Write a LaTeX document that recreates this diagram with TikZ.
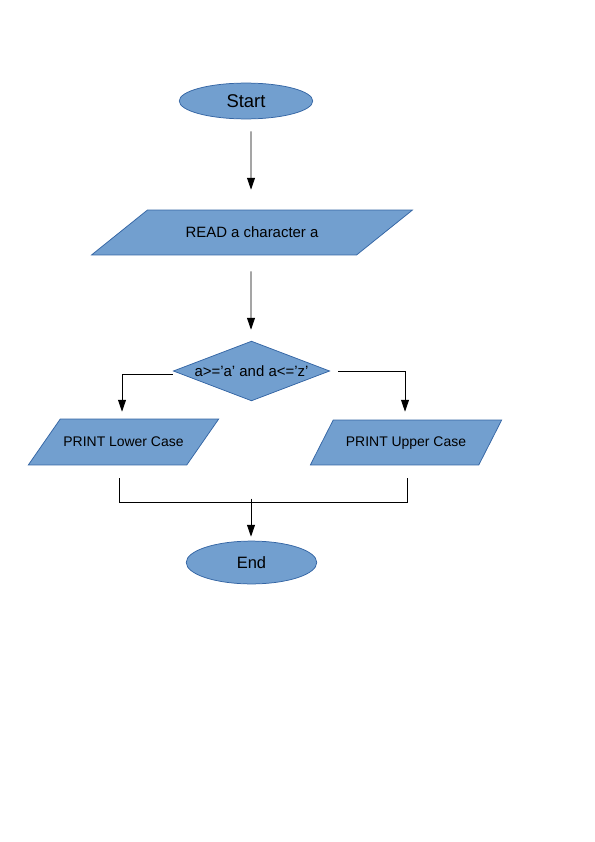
\documentclass[tikz,border=0pt]{standalone}
\usepackage{fontspec}
\setmainfont{Liberation Sans}
\usetikzlibrary{shapes.geometric,arrows.meta,calc}

\definecolor{boxfill}{RGB}{114,159,207}
\definecolor{boxline}{RGB}{52,101,164}

\tikzset{every picture/.style={line width=0.75pt}}
\tikzset{
	terminal/.style={ellipse, draw=boxline, fill=boxfill, inner sep=0pt},
	inout/.style={trapezium, trapezium stretches body, draw=boxline, fill=boxfill, inner sep=0pt, font=\fontsize{14}{16}\selectfont},
	decision/.style={diamond, draw=boxline, fill=boxfill, inner sep=0pt, font=\fontsize{15}{17}\selectfont},
	flow/.style={draw=black, line width=0.9pt, -{Triangle[length=12,width=8]}},
	mergeline/.style={draw=black, line width=0.9pt},
}

\begin{document}
\begin{tikzpicture}[x=1bp,y=1bp,yscale=-1,xscale=1]
	\useasboundingbox (0,0) rectangle (595,842);

	%Terminal: Start
	\node[terminal, minimum width=134, minimum height=36, font=\fontsize{18.5}{20}\selectfont] (start) at (246,101) {Start};
	%Input: read
	\node[inout, trapezium left angle=38.8, trapezium right angle=141.2, minimum width=322, text height=27.2, text depth=17.8, font=\fontsize{15}{17}\selectfont] (read) at (252,232.5) {READ a character a};
	%Decision
	\node[decision, aspect=2.62, minimum width=157, minimum height=60] (test) at (251.5,371) {a>='a' and a<='z'};
	%Output: lower / upper
	\node[inout, trapezium left angle=55.2, trapezium right angle=124.8, minimum width=191, text height=27.2, text depth=18.8] (lower) at (123.5,442) {PRINT Lower Case};
	\node[inout, trapezium left angle=63, trapezium right angle=117, minimum width=192, text height=26.8, text depth=18.2] (upper) at (406,442.5) {PRINT Upper Case};
	%Terminal: End
	\node[terminal, minimum width=131, minimum height=43, font=\fontsize{16.5}{18}\selectfont] (end) at (251.5,562.5) {End};

	%Connectors
	\draw[flow] ($(start.south)+(5,12)$) -- ($(read.north)+(-1,-20)$);
	\draw[flow] ($(read.south)+(-1,16)$) -- ($(test.north)+(-0.5,-11)$);
	\draw[flow] ($(test.west)+(0,3)$) -| ($(lower.north)+(-1.5,-7)$);
	\draw[flow] ($(test.east)+(8,0)$) -| ($(upper.north)+(-1,-8)$);
	\draw[mergeline] ($(lower.south)+(-4.5,13)$) |- ($(upper.south)+(1,37)$) -- ($(upper.south)+(1,13)$);
	\draw[flow] ($(end.north)+(-0.5,-42)$) -- ($(end.north)+(-0.5,-4)$);

\end{tikzpicture}
\end{document}
